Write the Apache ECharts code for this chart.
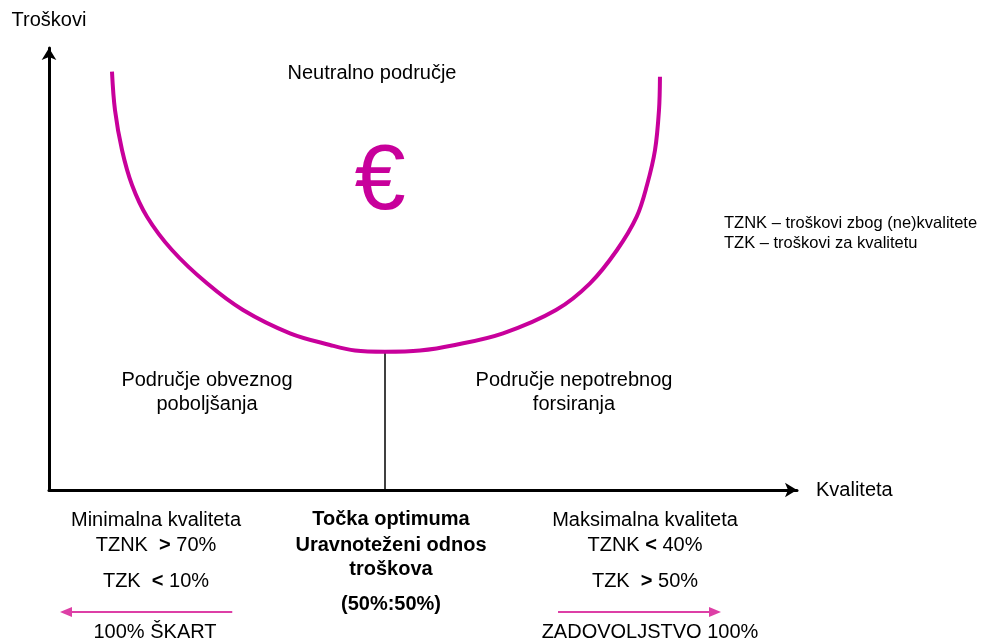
<!DOCTYPE html>
<html>
<head>
<meta charset="utf-8">
<script src="https://cdn.jsdelivr.net/npm/echarts@6/dist/echarts.min.js"></script>
<style>
html,body{margin:0;padding:0;background:#fff;}
#c{width:987px;height:642px;}
</style>
</head>
<body>
<div id="c"></div>
<script>
// ---- data (axis units 0..100) ----
const curveX = [8.42, 8.82, 9.76, 11.10, 13.10, 16.44, 21.12, 25.94, 32.22, 37.57, 40.91, 44.92,
                49.60, 54.28, 60.70, 67.78, 72.33, 75.94, 78.57, 79.95, 81.02, 81.55, 81.68];
const curveY = [94.64, 85.97, 76.92, 69.00, 61.83, 54.30, 46.76, 40.72, 35.45, 32.81, 31.56, 31.29,
                31.56, 32.81, 35.45, 40.72, 46.76, 54.30, 61.83, 69.00, 76.92, 85.97, 93.51];
const optimumX = 44.92;
const optimumY = 31.29;
const leftArrowX = [24.5, 2.27];
const rightArrowX = [68.05, 89.04];
const arrowY = -27.6;

const yAxisName = 'Troškovi';
const xAxisName = 'Kvaliteta';
const topLabel = 'Neutralno područje';
const euroSign = '€';
const leftRegion = ['Područje obveznog', 'poboljšanja'];
const rightRegion = ['Područje nepotrebnog', 'forsiranja'];
const legendLines = ['TZNK – troškovi zbog (ne)kvalitete', 'TZK – troškovi za kvalitetu'];
const leftBlock = ['Minimalna kvaliteta', 'TZNK  {b|>} 70%', 'TZK  {b|<} 10%', '100% ŠKART'];
const midBlock = ['Točka optimuma', 'Uravnoteženi odnos', 'troškova', '(50%:50%)'];
const rightBlock = ['Maksimalna kvaliteta', 'TZNK {b|<} 40%', 'TZK  {b|>} 50%', 'ZADOVOLJSTVO 100%'];

const FONT = '"Liberation Sans", Arial, sans-serif';
const FS = 20;
const MAG = '#c8009b';
const PINK = '#dd3fa6';

const chart = echarts.init(document.getElementById('c'), null, {renderer: 'canvas'});

function txt(x, y, s, extra) {
  return {
    type: 'text', x: x, y: y, silent: true,
    style: Object.assign({
      text: s, fill: '#000', font: FS + 'px ' + FONT,
      align: 'center', verticalAlign: 'middle',
      rich: { b: { fontWeight: 'bold', fontSize: FS, fontFamily: FONT, fill: '#000' } }
    }, extra || {})
  };
}
const bold = {font: 'bold ' + FS + 'px ' + FONT};

const graphics = [
  txt(372, 73, topLabel),
  txt(380, 184, euroSign, {fill: MAG, font: '92px ' + FONT}),
  txt(207, 380, leftRegion[0]), txt(207, 404, leftRegion[1]),
  txt(574, 380, rightRegion[0]), txt(574, 404, rightRegion[1]),
  txt(724, 223, legendLines[0], {align: 'left', font: '16.5px ' + FONT}),
  txt(724, 243, legendLines[1], {align: 'left', font: '16.5px ' + FONT}),
  txt(156, 520, leftBlock[0]), txt(156, 545, leftBlock[1]), txt(156, 581, leftBlock[2]), txt(155, 632, leftBlock[3]),
  txt(391, 519, midBlock[0], bold),
  txt(391, 545, midBlock[1], bold),
  txt(391, 569, midBlock[2], bold),
  txt(391, 604, midBlock[3], bold),
  txt(645, 520, rightBlock[0]), txt(645, 545, rightBlock[1]), txt(645, 581, rightBlock[2]), txt(650, 632, rightBlock[3])
];

const option = {
  backgroundColor: '#fff',
  animation: false,
  grid: {left: 49, right: 190, top: 48, bottom: 152, containLabel: false},
  xAxis: {
    type: 'value', min: 0, max: 100,
    name: xAxisName, nameLocation: 'end', nameGap: 19,
    nameTextStyle: {color: '#000', fontSize: FS, fontFamily: FONT, verticalAlign: 'middle', align: 'left'},
    axisLine: {show: true, onZero: false, symbol: ['none', 'arrow'], symbolSize: [11, 12],
      lineStyle: {color: '#000', width: 3}},
    axisTick: {show: false}, axisLabel: {show: false}, splitLine: {show: false}
  },
  yAxis: {
    type: 'value', min: 0, max: 100,
    name: yAxisName, nameLocation: 'end', nameGap: 18,
    nameTextStyle: {color: '#000', fontSize: FS, fontFamily: FONT, align: 'center'},
    axisLine: {show: true, onZero: false, symbol: ['none', 'arrow'], symbolSize: [11, 12],
      lineStyle: {color: '#000', width: 3}},
    axisTick: {show: false}, axisLabel: {show: false}, splitLine: {show: false}
  },
  series: [
    {
      type: 'line', name: 'curve', smooth: 0.35, showSymbol: false, symbol: 'none',
      data: curveX.map((x, i) => [x, curveY[i]]),
      lineStyle: {color: MAG, width: 4}, clip: false, silent: true, z: 3
    },
    {
      type: 'line', name: 'optimum', showSymbol: false, symbol: 'none',
      data: [[optimumX, 0], [optimumX, optimumY]],
      lineStyle: {color: '#000', width: 1.5}, clip: false, silent: true, z: 2
    },
    {
      type: 'line', name: 'arrowLeft', clip: false, silent: true,
      symbol: 'triangle', showSymbol: true,
      data: [
        {value: [leftArrowX[0], arrowY], symbol: 'none'},
        {value: [leftArrowX[1], arrowY], symbol: 'triangle', symbolRotate: 90, symbolSize: [10, 12]}
      ],
      itemStyle: {color: PINK, borderWidth: 0},
      lineStyle: {color: PINK, width: 2}
    },
    {
      type: 'line', name: 'arrowRight', clip: false, silent: true,
      symbol: 'triangle', showSymbol: true,
      data: [
        {value: [rightArrowX[0], arrowY], symbol: 'none'},
        {value: [rightArrowX[1], arrowY], symbol: 'triangle', symbolRotate: -90, symbolSize: [10, 12]}
      ],
      itemStyle: {color: PINK, borderWidth: 0},
      lineStyle: {color: PINK, width: 2}
    }
  ],
  graphic: graphics
};
chart.setOption(option);
</script>
</body>
</html>
